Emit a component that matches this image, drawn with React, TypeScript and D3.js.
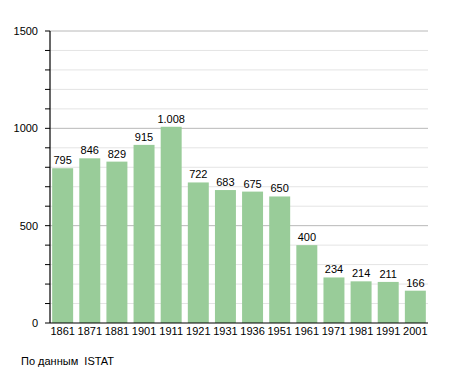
import React from 'react';
import * as d3 from 'd3';

const years = ['1861', '1871', '1881', '1901', '1911', '1921', '1931', '1936', '1951', '1961', '1971', '1981', '1991', '2001'];
const population = [795, 846, 829, 915, 1008, 722, 683, 675, 650, 400, 234, 214, 211, 166];
const majorTicks = [0, 500, 1000, 1500];
const sourceNote = 'По данным  ISTAT';

const W = 455;
const H = 373;
const left = 50;
const right = 428;
const top = 31;
const bottom = 323;

const fmt = (v: number) => d3.format(',')(v).replace(/,/g, '.');

export default function App() {
  const x = d3.scaleBand<string>().domain(years).range([left, right]).paddingInner(0.227).paddingOuter(0.08);
  const y = d3.scaleLinear().domain([0, 1500]).range([bottom, top]);
  const minor = d3.range(0, 1501, 100);
  const font = '"Liberation Sans", Arial, sans-serif';

  return (
    <svg width={W} height={H} style={{ position: 'absolute', left: 0, top: 0 }} fontFamily={font}>
      <rect width={W} height={H} fill="#fff" />
      {/* minor grid */}
      {minor.filter(v => v % 500 !== 0).map(v => (
        <line key={'m' + v} x1={left} x2={right} y1={y(v)} y2={y(v)} stroke="#e4e4e4" strokeWidth={1} />
      ))}
      {majorTicks.filter(v => v > 0).map(v => (
        <line key={'g' + v} x1={left} x2={right} y1={y(v)} y2={y(v)} stroke="#b8b8b8" strokeWidth={1} />
      ))}
      {/* bars */}
      {years.map((yr, i) => (
        <rect key={yr} x={x(yr)} y={y(population[i])} width={x.bandwidth()} height={bottom - y(population[i])} fill="#99cc99" />
      ))}
      {years.map((yr, i) => (
        <text key={'l' + yr} x={(x(yr) as number) + x.bandwidth() / 2} y={y(population[i]) - 4} textAnchor="middle" fontSize={11} fill="#000">
          {fmt(population[i])}
        </text>
      ))}
      {/* axes */}
      <line x1={left} x2={left} y1={top} y2={bottom} stroke="#000" strokeWidth={1.2} />
      <line x1={left} x2={right} y1={bottom} y2={bottom} stroke="#000" strokeWidth={1.2} />
      {minor.map(v => (
        <line key={'t' + v} x1={left - 5} x2={left} y1={y(v)} y2={y(v)} stroke="#000" strokeWidth={1} />
      ))}
      {majorTicks.map(v => (
        <text key={'y' + v} x={38} y={y(v) + 4} textAnchor="end" fontSize={11} fill="#000">{v}</text>
      ))}
      {years.map(yr => (
        <text key={'x' + yr} x={(x(yr) as number) + x.bandwidth() / 2} y={bottom + 12} textAnchor="middle" fontSize={11} fill="#000">
          {yr}
        </text>
      ))}
      <text x={21} y={365} fontSize={11} fill="#000" style={{ whiteSpace: 'pre' }}>{sourceNote}</text>
    </svg>
  );
}
